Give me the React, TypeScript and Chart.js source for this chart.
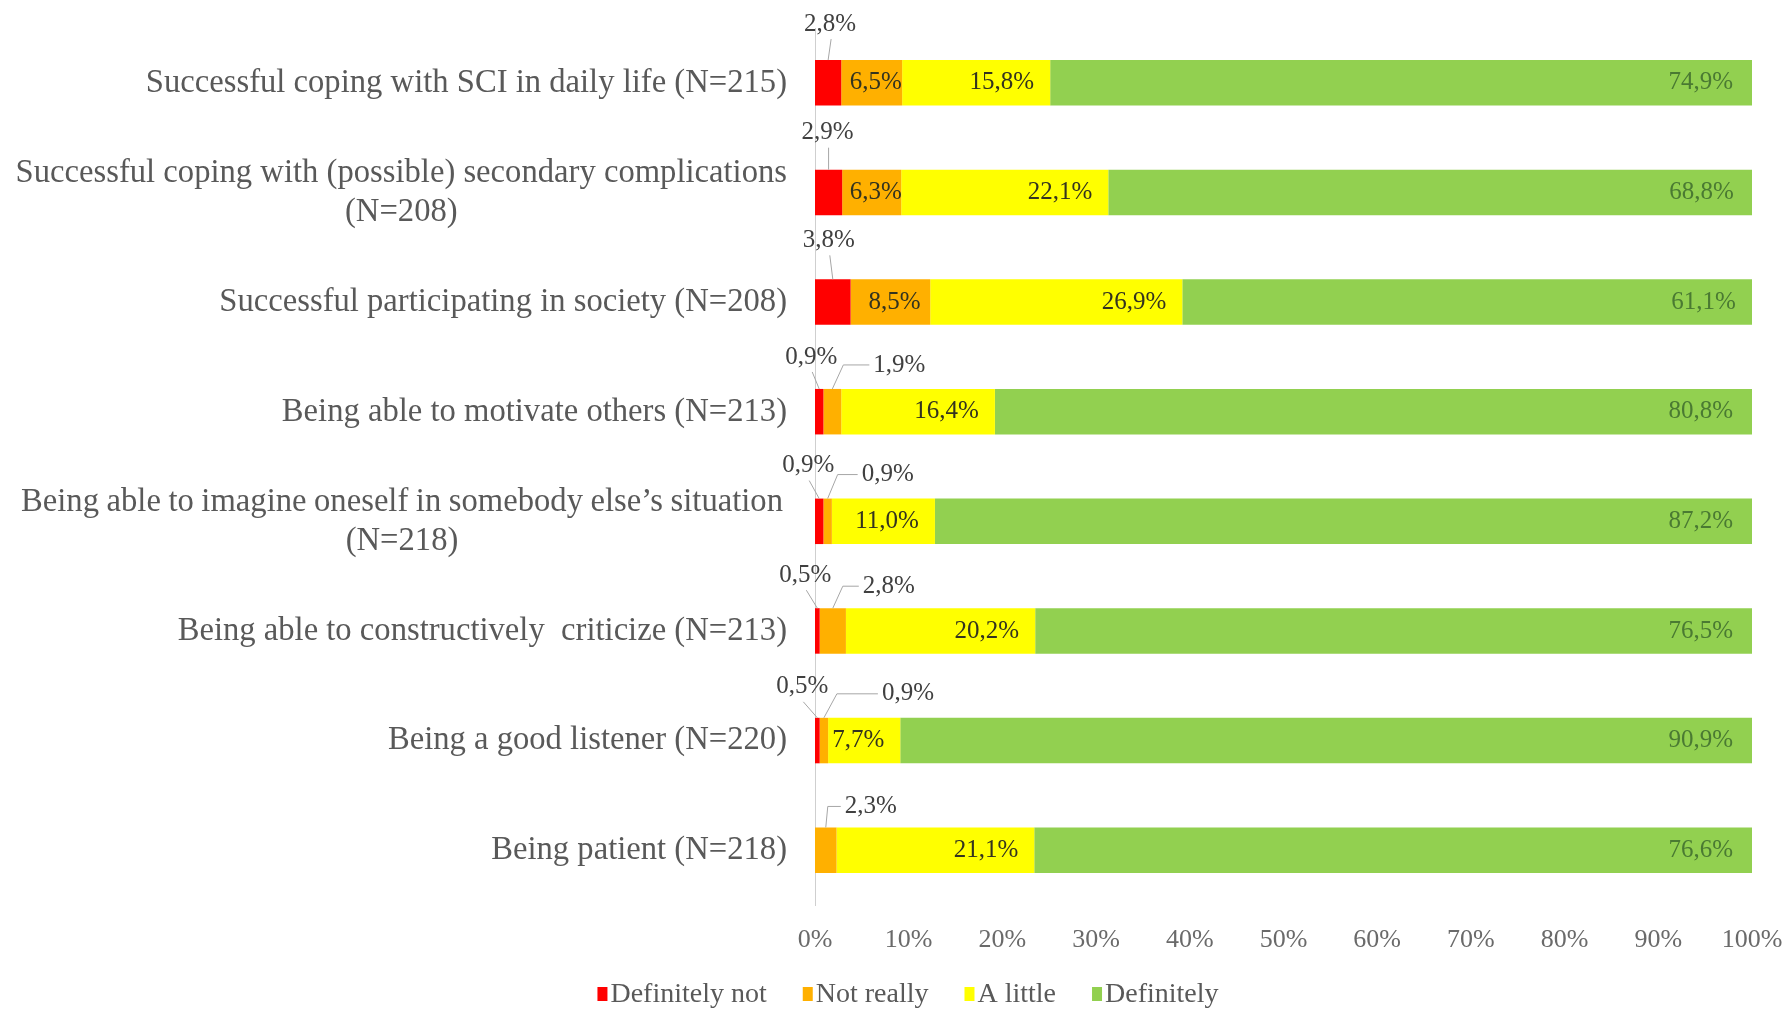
import React, { useEffect, useRef } from 'react';
import { Chart, registerables } from 'chart.js';

Chart.register(...registerables);

// ---------- data ----------
const categories: string[][] = [
  ['Successful coping with SCI in daily life (N=215)'],
  ['Successful coping with (possible) secondary complications', '(N=208)'],
  ['Successful participating in society (N=208)'],
  ['Being able to motivate others (N=213)'],
  ['Being able to imagine oneself in somebody else’s situation', '(N=218)'],
  ['Being able to constructively  criticize (N=213)'],
  ['Being a good listener (N=220)'],
  ['Being patient (N=218)'],
];
const seriesNames = ['Definitely not', 'Not really', 'A little', 'Definitely'];
const definitelyNot = [2.8, 2.9, 3.8, 0.9, 0.9, 0.5, 0.5, 0];
const notReally = [6.5, 6.3, 8.5, 1.9, 0.9, 2.8, 0.9, 2.3];
const aLittle = [15.8, 22.1, 26.9, 16.4, 11.0, 20.2, 7.7, 21.1];
const definitely = [74.9, 68.8, 61.1, 80.8, 87.2, 76.5, 90.9, 76.6];
const xTicks = [0, 10, 20, 30, 40, 50, 60, 70, 80, 90, 100];

// ---------- style / layout ----------
const colors = ['#FF0000', '#FFB000', '#FFFF00', '#92D050'];
const SERIF = '"Liberation Serif", "Times New Roman", serif';
const LABEL_SX = 0.96;
// callouts: [row, dataset, dx, dy, elbowDx]
const calloutLayout: number[][] = [
  [0, 0, 2, -36, 0],
  [1, 0, -1, -37, 0],
  [2, 0, -4, -39, 0],
  [3, 0, -8, -32, 0],
  [4, 0, -11, -33, 0],
  [5, 0, -12, -33, 0],
  [6, 0, -15, -31, 0],
  [3, 1, 41, -24, 11],
  [4, 1, 34, -24, 10],
  [5, 1, 30, -22, 10],
  [6, 1, 58, -24, 13],
  [7, 1, 19, -21, 2],
];
const justifyWidths: Record<number, number> = { 4: 762 };

const fmt = (v: number) => v.toFixed(1).replace('.', ',') + '%';

function drawJustified(ctx: CanvasRenderingContext2D, text: string, right: number, y: number, width: number) {
  const words = text.split(/\s+/);
  const ww = words.map((w) => ctx.measureText(w).width * LABEL_SX);
  const total = ww.reduce((a, b) => a + b, 0);
  const gap = (width - total) / (words.length - 1);
  let x = right - width;
  ctx.textAlign = 'left';
  words.forEach((w, k) => {
    ctx.save();
    ctx.translate(x, y);
    ctx.scale(LABEL_SX, 1);
    ctx.fillText(w, 0, 0);
    ctx.restore();
    x += ww[k] + gap;
  });
}

const annotate = {
  id: 'annotate',
  afterDraw(chart: any) {
    const ctx: CanvasRenderingContext2D = chart.ctx;
    const ys = chart.scales.y;
    ctx.save();

    // category labels
    ctx.fillStyle = '#595959';
    ctx.font = `34px ${SERIF}`;
    ctx.textBaseline = 'middle';
    const right = ys.right - 28;
    const lh = 39;
    categories.forEach((lines, i) => {
      const yc = ys.getPixelForValue(i);
      const y0 = yc - ((lines.length - 1) * lh) / 2;
      const jw = justifyWidths[i];
      const rEdge = jw ? right - 4 : right;
      const w0 = jw ? jw : ctx.measureText(lines[0]).width * LABEL_SX;
      lines.forEach((line, j) => {
        const y = y0 + j * lh;
        if (j === 0) {
          if (jw) {
            drawJustified(ctx, line, rEdge, y, jw);
          } else {
            ctx.save();
            ctx.translate(rEdge, y);
            ctx.scale(LABEL_SX, 1);
            ctx.textAlign = 'right';
            ctx.fillText(line, 0, 0);
            ctx.restore();
          }
        } else {
          ctx.save();
          ctx.translate(rEdge - w0 / 2, y);
          ctx.scale(LABEL_SX, 1);
          ctx.textAlign = 'center';
          ctx.fillText(line, 0, 0);
          ctx.restore();
        }
      });
    });

    // inline data labels
    ctx.font = `25px ${SERIF}`;
    ctx.textBaseline = 'middle';
    const calloutSet = new Set(calloutLayout.map((c) => `${c[0]}-${c[1]}`));
    chart.data.datasets.forEach((ds: any, d: number) => {
      const meta = chart.getDatasetMeta(d);
      meta.data.forEach((el: any, i: number) => {
        const v = ds.data[i];
        if (!v || calloutSet.has(`${i}-${d}`)) return;
        const { x, base, y } = el.getProps(['x', 'base', 'y'], true);
        if (d === 1) {
          ctx.fillStyle = '#33331f';
          ctx.textAlign = 'center';
          ctx.fillText(fmt(v), (x + base) / 2 + 4, y);
        } else if (d === 2) {
          ctx.fillStyle = '#33331f';
          ctx.textAlign = 'right';
          ctx.fillText(fmt(v), x - 16, y);
        } else if (d === 3) {
          ctx.fillStyle = '#4a7a32';
          ctx.textAlign = 'right';
          ctx.fillText(fmt(v), x - 19, y);
        }
      });
    });

    // callouts
    ctx.strokeStyle = '#a6a6a6';
    ctx.lineWidth = 1;
    ctx.fillStyle = '#404040';
    calloutLayout.forEach(([row, d, dx, dy, ex]) => {
      const v = chart.data.datasets[d].data[row];
      if (!v) return;
      const el = chart.getDatasetMeta(d).data[row];
      const { x, base, y, height } = el.getProps(['x', 'base', 'y', 'height'], true);
      const cx = (x + base) / 2;
      const top = y - height / 2;
      const ly = top + dy;
      ctx.beginPath();
      if (d === 0) {
        const lx = cx + dx;
        ctx.textAlign = 'center';
        ctx.fillText(fmt(v), lx, ly);
        ctx.moveTo(lx + 1, ly + 15);
        ctx.lineTo(cx, top);
      } else {
        const lx = cx + dx;
        ctx.textAlign = 'left';
        ctx.fillText(fmt(v), lx, ly);
        ctx.moveTo(cx, top);
        ctx.lineTo(cx + ex, ly);
        ctx.lineTo(lx - 4, ly);
      }
      ctx.stroke();
    });

    // legend
    ctx.font = `28px ${SERIF}`;
    ctx.textAlign = 'left';
    ctx.textBaseline = 'middle';
    const boxW = 10, boxH = 14, boxGap = 3, itemGap = 36;
    const widths = chart.data.datasets.map((ds: any) => boxW + boxGap + ctx.measureText(ds.label).width);
    const totalW = widths.reduce((a: number, b: number) => a + b, 0) + itemGap * (widths.length - 1);
    let lx = chart.width / 2 + 14 - totalW / 2;
    const legY = 994;
    chart.data.datasets.forEach((ds: any, d: number) => {
      ctx.fillStyle = ds.backgroundColor;
      ctx.fillRect(lx, legY - boxH / 2, boxW, boxH);
      ctx.fillStyle = '#595959';
      ctx.fillText(ds.label, lx + boxW + boxGap, legY + 1);
      lx += widths[d] + itemGap;
    });

    ctx.restore();
  },
};

export default function App() {
  const ref = useRef<HTMLCanvasElement | null>(null);

  useEffect(() => {
    document.body.style.margin = '0';
    const canvas = ref.current;
    if (!canvas) return;
    const seriesValues = [definitelyNot, notReally, aLittle, definitely];
    const chart = new Chart(canvas, {
      type: 'bar',
      data: {
        labels: categories.map((c) => c.join(' ')),
        datasets: seriesNames.map((name, k) => ({
          label: name,
          data: seriesValues[k],
          backgroundColor: colors[k],
          borderWidth: 0,
          barPercentage: 0.415,
          categoryPercentage: 1,
        })),
      },
      options: {
        indexAxis: 'y',
        animation: false,
        responsive: false,
        devicePixelRatio: 1,
        layout: { padding: { top: 28, right: 36, bottom: 45, left: 0 } },
        plugins: {
          legend: { display: false },
          tooltip: { enabled: false },
          title: { display: false },
        },
        scales: {
          x: {
            type: 'linear',
            stacked: true,
            min: 0,
            max: 100,
            afterBuildTicks: (s: any) => {
              s.ticks = xTicks.map((v) => ({ value: v }));
            },
            ticks: {
              callback: (v: any) => `${v}%`,
              font: { family: SERIF, size: 26 },
              color: '#6a6a6a',
              padding: 20,
              maxRotation: 0,
              autoSkip: false,
            },
            grid: { display: false, drawTicks: false },
            border: { display: false },
            afterFit: (s: any) => {
              s.height = 60;
              s.paddingLeft = 0;
              s.paddingRight = 0;
            },
          },
          y: {
            type: 'category',
            stacked: true,
            ticks: { display: false },
            grid: { display: false, drawTicks: false },
            border: { display: true, color: '#cfcfcf', width: 1 },
            afterFit: (s: any) => {
              s.width = 815;
              s.paddingTop = 0;
              s.paddingBottom = 0;
            },
          },
        },
      },
      plugins: [annotate],
    });
    return () => chart.destroy();
  }, []);

  return (
    <div style={{ width: 1788, height: 1010, background: '#fff' }}>
      <canvas ref={ref} width={1788} height={1010} style={{ display: 'block', width: 1788, height: 1010 }} />
    </div>
  );
}
